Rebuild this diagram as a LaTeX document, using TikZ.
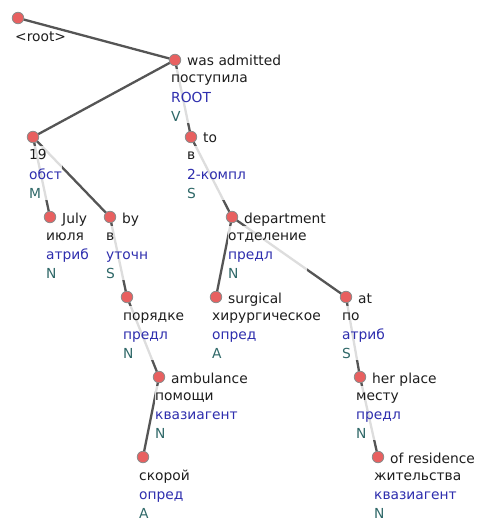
\documentclass[tikz,border=0pt]{standalone}
\usepackage{fontspec}
\setmainfont{DejaVu Sans}
\definecolor{edgec}{HTML}{555555}
\definecolor{dotc}{HTML}{E86060}
\definecolor{dotb}{HTML}{8C8C8C}
\definecolor{txtc}{HTML}{1E1E1E}
\definecolor{relc}{HTML}{2E2EAE}
\definecolor{posc}{HTML}{2F6868}
\pgfdeclarelayer{edges}
\pgfdeclarelayer{labels}
\pgfsetlayers{edges,labels,main}
\tikzset{
  every node/.style={font=\fontsize{13.8}{19.4}\selectfont, text=txtc},
  dot/.style={circle, fill=dotc, draw=dotb, line width=0.8pt, minimum size=11.5pt, inner sep=0pt},
  edge/.style={draw=edgec, line width=2.3pt},
  gl/.style={anchor=base west, inner sep=0pt},
  lbl/.style={anchor=base west, inner sep=0pt, fill=white, fill opacity=0.8, text opacity=1},
}
\newcommand\mkgl[2]{\node[gl] (#1-g) at ([shift={(12,6)}]#1.center) {#2};}
\newcommand\mklab[4]{\node[lbl] (#1-l) at ([shift={(-4,23)}]#1.center) {\begin{tabular}[t]{@{}l@{}}#2\\\color{relc}#3\\\color{posc}#4\\[-5pt]\end{tabular}};}
\begin{document}
\begin{tikzpicture}[x=1pt,y=-1pt]
\useasboundingbox (0,0) rectangle (476,521);
% tree nodes
\node[dot] (root) at (18,18) {};
\node[dot] (adm) at (175,60) {};
\node[dot] (n19) at (33,137) {};
\node[dot] (v1) at (191,137) {};
\node[dot] (july) at (50,217) {};
\node[dot] (by) at (110,217) {};
\node[dot] (dept) at (232,217) {};
\node[dot] (por) at (127,297) {};
\node[dot] (surg) at (216,297) {};
\node[dot] (at) at (346,297) {};
\node[dot] (amb) at (159,377) {};
\node[dot] (her) at (360,377) {};
\node[dot] (skor) at (143,457) {};
\node[dot] (res) at (378,457) {};
% edges
\begin{pgfonlayer}{edges}
\draw[edge] (root.center) -- (adm.center);
\draw[edge] (adm.center) -- (n19.center);
\draw[edge] (adm.center) -- (v1.center);
\draw[edge] (n19.center) -- (july.center);
\draw[edge] (n19.center) -- (by.center);
\draw[edge] (v1.center) -- (dept.center);
\draw[edge] (by.center) -- (por.center);
\draw[edge] (dept.center) -- (surg.center);
\draw[edge] (dept.center) -- (at.center);
\draw[edge] (por.center) -- (amb.center);
\draw[edge] (at.center) -- (her.center);
\draw[edge] (amb.center) -- (skor.center);
\draw[edge] (her.center) -- (res.center);
\end{pgfonlayer}
% labels
\begin{pgfonlayer}{labels}
\node[lbl] (root-l) at ([shift={(-3,23.5)}]root.center) {<root>};
\mkgl{adm}{was admitted}
\mklab{adm}{поступила}{ROOT}{V}
\mklab{n19}{19}{обст}{M}
\mkgl{v1}{to}
\mklab{v1}{в}{2-компл}{S}
\mkgl{july}{July}
\mklab{july}{июля}{атриб}{N}
\mkgl{by}{by}
\mklab{by}{в}{уточн}{S}
\mkgl{dept}{department}
\mklab{dept}{отделение}{предл}{N}
\mklab{por}{порядке}{предл}{N}
\mkgl{surg}{surgical}
\mklab{surg}{хирургическое}{опред}{A}
\mkgl{at}{at}
\mklab{at}{по}{атриб}{S}
\mkgl{amb}{ambulance}
\mklab{amb}{помощи}{квазиагент}{N}
\mkgl{her}{her place}
\mklab{her}{месту}{предл}{N}
\mklab{skor}{скорой}{опред}{A}
\mkgl{res}{of residence}
\mklab{res}{жительства}{квазиагент}{N}
\end{pgfonlayer}
\end{tikzpicture}
\end{document}
